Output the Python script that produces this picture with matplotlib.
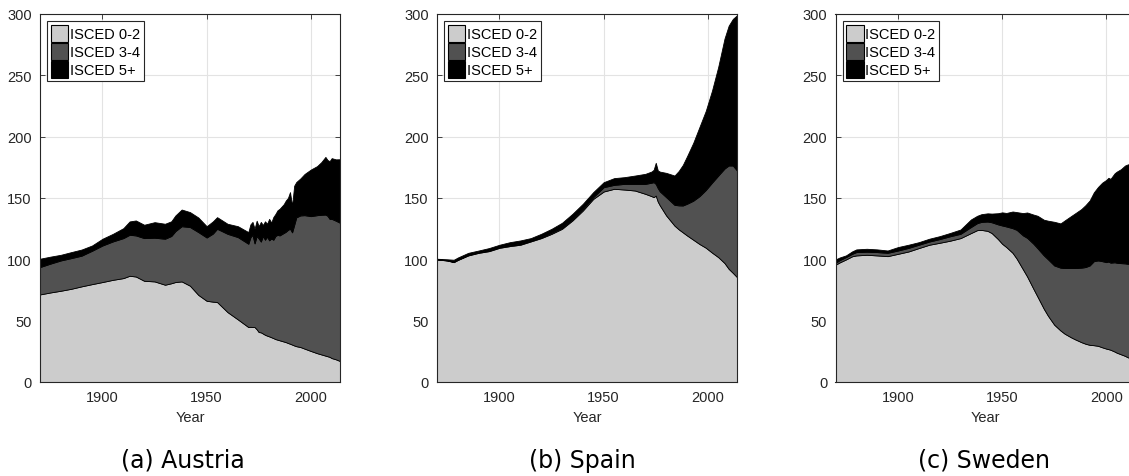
import numpy as np
import matplotlib
matplotlib.use('Agg')
import matplotlib.pyplot as plt
from matplotlib.patches import Patch

plt.rcParams['font.family'] = ['Liberation Sans', 'DejaVu Sans']

LABELS = ['ISCED 0-2', 'ISCED 3-4', 'ISCED 5+']
COLORS = ['#cccccc', '#515151', '#000000']

# upper edges of the stacked areas (ISCED 0-2 / +3-4 / +5+), index 1870 = ~100

# Austria
at_years = [1870, 1875, 1880, 1885, 1890, 1895, 1900, 1905, 1910, 1913, 1916,
            1920, 1925, 1930, 1933, 1935, 1938, 1942, 1946, 1950, 1953, 1955,
            1960, 1965, 1970, 1971, 1972, 1973, 1974, 1975, 1976, 1977, 1978,
            1979, 1980, 1981, 1982, 1983, 1984, 1985, 1987, 1988, 1989, 1990,
            1991, 1992, 1993, 1995, 1997, 2000, 2003, 2005, 2007, 2008, 2009,
            2010, 2012, 2014]
at_low = [71.4, 73.0, 74.4, 76.0, 78.0, 79.8, 81.5, 83.3, 84.7, 86.6, 86.0,
          82.5, 82.0, 79.3, 80.5, 81.5, 82.0, 78.5, 71.0, 66.2, 65.5, 65.2,
          57.0, 51.0, 44.8, 45.0, 44.8, 44.8, 43.0, 40.7, 40.5, 39.5, 38.5,
          37.8, 37.2, 36.5, 35.8, 35.0, 34.5, 34.0, 33.0, 32.5, 31.8, 31.2,
          30.5, 29.8, 29.2, 28.5, 27.2, 25.3, 23.5, 22.5, 21.5, 21.0, 20.5,
          19.5, 18.5, 17.1]
at_mid = [93.7, 96.5, 99.1, 101.0, 103.0, 107.0, 111.3, 114.6, 117.3, 120.0, 119.5,
          117.3, 117.6, 116.8, 119.0, 123.0, 127.0, 126.3, 122.2, 117.8, 121.0, 124.9,
          120.8, 118.1, 112.7, 118.0, 120.0, 113.0, 119.0, 117.0, 114.5, 119.0, 116.0,
          118.5, 115.5, 117.0, 116.0, 119.0, 120.0, 119.5, 121.5, 122.5, 124.0, 125.0,
          122.0, 128.0, 134.2, 135.8, 136.0, 135.2, 136.0, 136.3, 136.5, 135.5, 133.0,
          133.0, 131.5, 129.8]
at_top = [100.5, 102.2, 103.7, 105.9, 108.0, 111.3, 116.8, 120.8, 125.4, 130.9, 131.7,
          128.2, 130.3, 129.0, 131.0, 135.8, 140.6, 138.5, 134.1, 127.0, 131.0, 134.4,
          129.0, 127.0, 122.2, 128.5, 130.5, 125.0, 131.5, 127.0, 130.5, 128.0, 131.0,
          129.0, 133.0, 130.0, 134.5, 137.0, 140.0, 141.2, 145.0, 148.0, 150.0, 154.8,
          143.7, 160.0, 163.0, 166.0, 169.6, 173.2, 176.0, 179.2, 183.5, 181.0, 180.0,
          182.5, 181.5, 181.6]

# Spain
es_years = [1870, 1875, 1878, 1880, 1885, 1890, 1895, 1900, 1905, 1910, 1915,
            1920, 1925, 1930, 1935, 1940, 1945, 1950, 1955, 1960, 1965, 1970,
            1973, 1974, 1975, 1976, 1977, 1980, 1984, 1986, 1988, 1990, 1993,
            1996, 1999, 2002, 2005, 2008, 2010, 2012, 2014]
es_low = [99.9, 99.0, 97.7, 99.5, 103.2, 105.3, 106.7, 109.4, 110.8, 111.9, 114.6,
          117.3, 120.8, 124.9, 131.7, 139.8, 149.3, 155.3, 157.5, 156.9, 156.1, 153.4,
          151.5, 150.7, 152.0, 147.0, 143.9, 135.8, 127.5, 124.5, 122.0, 119.5, 116.0,
          112.5, 109.5, 105.5, 101.8, 97.0, 92.3, 89.0, 85.5]
es_mid = [100.0, 99.2, 98.0, 99.8, 103.6, 105.8, 107.3, 110.0, 111.5, 112.6, 115.3,
          118.0, 121.8, 125.8, 132.8, 141.2, 150.7, 158.8, 160.7, 161.5, 161.5, 161.5,
          162.5, 162.9, 161.5, 158.0, 155.3, 150.7, 144.4, 144.0, 143.9, 145.3, 147.8,
          151.5, 156.5, 162.5, 168.3, 174.0, 176.5, 176.5, 172.4]
es_top = [100.5, 100.0, 99.6, 101.5, 105.3, 107.2, 109.2, 111.9, 114.0, 115.4, 117.3,
          120.8, 124.9, 129.8, 137.1, 145.3, 154.8, 162.9, 166.2, 167.0, 168.3, 169.7,
          171.6, 173.0, 178.7, 172.4, 171.5, 170.5, 168.3, 172.0, 177.0, 184.0, 195.0,
          208.0, 221.0, 237.5, 257.0, 280.0, 290.5, 296.0, 299.0]

# Sweden
se_years = [1870, 1872, 1875, 1878, 1880, 1885, 1890, 1895, 1900, 1905, 1910,
            1915, 1920, 1925, 1930, 1935, 1938, 1940, 1943, 1945, 1948, 1950,
            1952, 1955, 1957, 1960, 1962, 1965, 1967, 1970, 1972, 1975, 1978,
            1980, 1983, 1985, 1988, 1990, 1992, 1994, 1996, 1998, 2000, 2001,
            2002, 2004, 2005, 2007, 2009, 2010, 2012, 2014]
se_low = [95.6, 97.5, 99.9, 102.5, 103.2, 103.7, 103.2, 102.6, 104.5, 106.4, 109.2,
          111.9, 113.5, 115.2, 117.3, 121.4, 123.8, 124.0, 123.2, 121.4, 116.5, 112.7,
          110.0, 105.3, 100.5, 91.8, 86.0, 76.0, 69.5, 59.7, 54.0, 46.7, 42.0,
          39.4, 36.5, 34.8, 32.5, 31.2, 30.3, 30.0, 29.5, 28.3, 27.2, 26.8,
          26.3, 24.8, 23.9, 22.6, 21.3, 20.4, 19.0, 17.6]
se_mid = [97.2, 99.3, 101.8, 104.5, 105.9, 106.2, 105.9, 105.3, 107.2, 109.3, 111.9,
          114.5, 116.5, 118.8, 120.8, 126.3, 129.5, 130.5, 130.8, 130.2, 128.5, 127.6,
          126.8, 125.4, 124.0, 119.5, 117.5, 112.7, 109.0, 103.2, 100.0, 95.0, 93.2,
          92.9, 92.9, 92.9, 93.2, 93.7, 95.0, 98.5, 99.1, 98.5, 97.7, 98.2,
          97.3, 97.6, 97.2, 96.9, 96.7, 96.4, 96.2, 95.8]
se_top = [99.9, 101.5, 103.2, 106.5, 108.1, 108.6, 108.1, 107.2, 110.0, 111.9, 114.0,
          116.8, 118.9, 121.5, 124.3, 132.5, 135.5, 136.8, 137.5, 137.3, 137.6, 138.3,
          137.8, 139.0, 138.5, 137.7, 138.2, 136.5, 135.5, 132.3, 131.5, 130.6, 129.3,
          131.7, 135.2, 137.5, 141.0, 144.2, 148.0, 154.6, 159.0, 162.5, 164.8, 166.5,
          165.6, 170.2, 171.5, 173.5, 176.5, 177.2, 178.3, 179.2]

panels = [
    (at_years, at_low, at_mid, at_top, '(a) Austria', 40, 183),
    (es_years, es_low, es_mid, es_top, '(b) Spain', 437, 582.5),
    (se_years, se_low, se_mid, se_top, '(c) Sweden', 835.5, 984),
]

W, H = 1129, 477
fig = plt.figure(figsize=(W / 100, H / 100), dpi=100)

for years, low, mid, top, caption, left, cap_x in panels:
    ax = fig.add_axes([left / W, (H - 383) / H, 300 / W, 368 / H])
    ax.set_axisbelow(True)
    edges = [np.zeros(len(years)), np.array(low), np.array(mid), np.array(top)]
    for i in range(3):
        ax.fill_between(years, edges[i], edges[i + 1], facecolor=COLORS[i],
                        edgecolor='black', linewidth=0.6)
    ax.set_xlim(1870, 2014)
    ax.set_ylim(0, 300)
    ax.set_xticks([1900, 1950, 2000])
    ax.set_yticks(range(0, 301, 50))
    ax.grid(True, color='#e3e3e3', linewidth=0.8)
    ax.tick_params(direction='in', top=True, right=True, length=3.5, width=0.6,
                   labelsize=10.5, labelcolor='#262626', color='#262626', pad=6)
    for s in ax.spines.values():
        s.set_color('#262626')
        s.set_linewidth(0.8)
    ax.set_xlabel('Year', fontsize=10.5, color='#262626', labelpad=4)
    handles = [Patch(facecolor=c, edgecolor='black', linewidth=0.8) for c in COLORS]
    leg = ax.legend(handles, LABELS, loc='upper left', fontsize=10.5,
                    fancybox=False, framealpha=1, edgecolor='#262626',
                    handlelength=1.2, handleheight=1.4, handletextpad=0.1,
                    labelspacing=0.08, borderpad=0.25, borderaxespad=0.5)
    leg.get_frame().set_linewidth(0.8)
    fig.text(cap_x / W, 1 - 461 / H, caption, ha='center', va='center',
             fontsize=17, family='DejaVu Sans')

fig.savefig('out.png', dpi=100)
